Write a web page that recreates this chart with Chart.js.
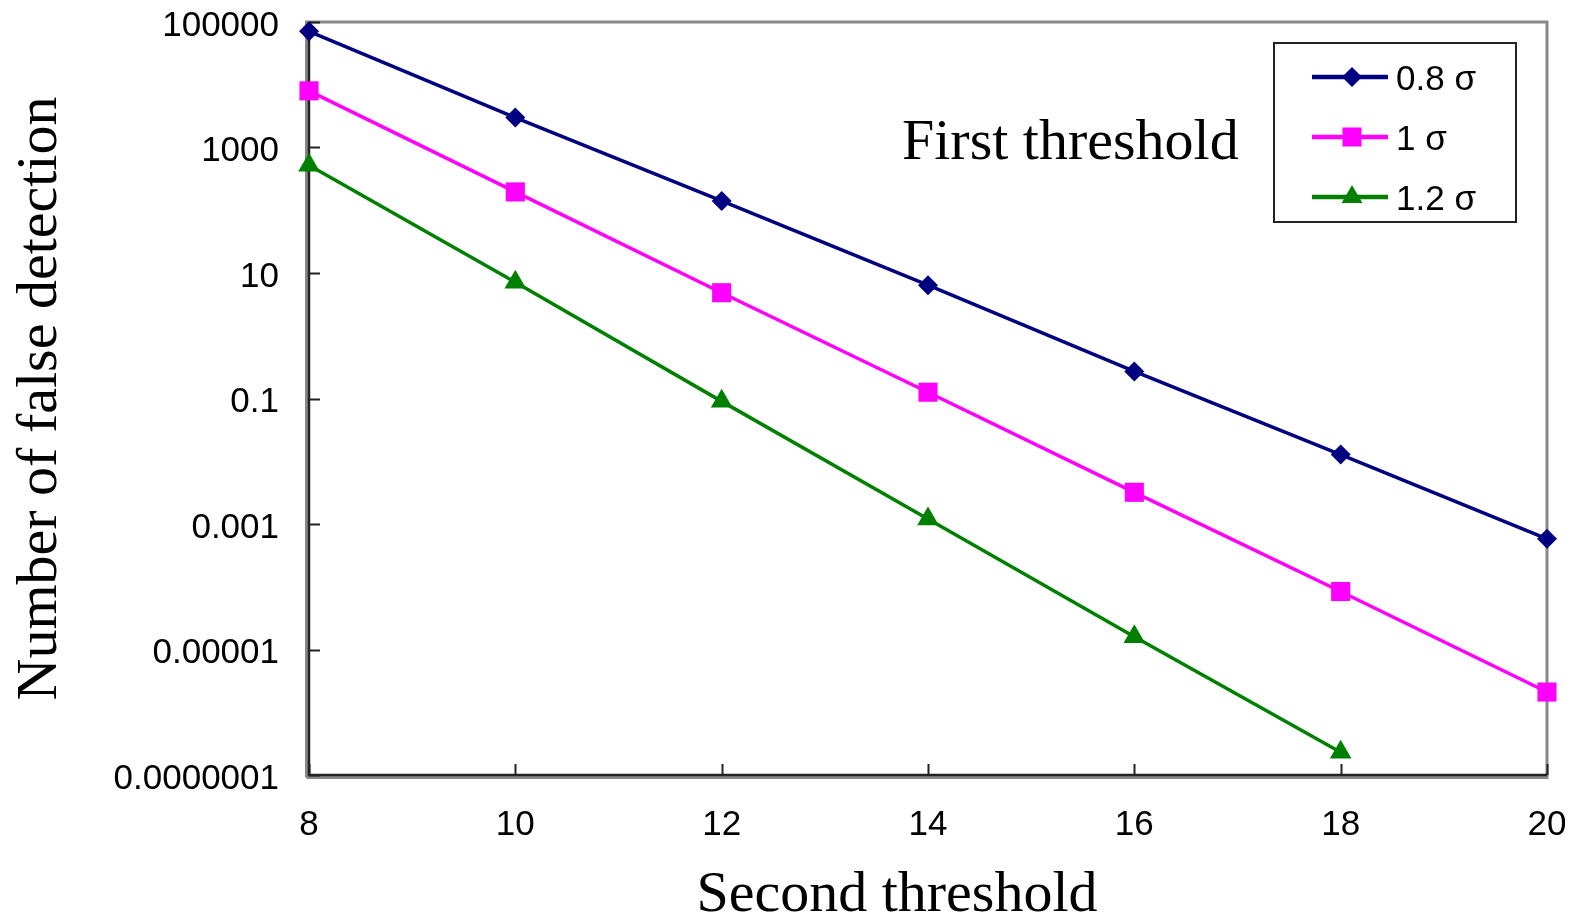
<!DOCTYPE html>
<html>
<head>
<meta charset="utf-8">
<script src="https://cdn.jsdelivr.net/npm/chart.js"></script>
<style>
  html, body { margin: 0; padding: 0; background: #fff; }
  canvas { display: block; }
</style>
</head>
<body>
<canvas id="chart" width="1579" height="919"></canvas>
<script>
// values (log scale)
const secondThreshold = [8, 10, 12, 14, 16, 18, 20];
const sigma08 = [71000, 3000, 141, 6.4, 0.27, 0.0128, 0.00058];
const sigma10 = [8000, 196, 4.85, 0.126, 0.0032, 0.000084, 0.0000021];
const sigma12 = [520, 7.1, 0.09, 0.0012, 0.000016, 0.00000023];
const seriesNames = ['0.8 σ', '1 σ', '1.2 σ'];
const yTickValues = [1e-7, 1e-5, 1e-3, 1e-1, 10, 1000, 100000];
const yTickLabels = ['0.0000001', '0.00001', '0.001', '0.1', '10', '1000', '100000'];
const xTickValues = [8, 10, 12, 14, 16, 18, 20];

const SANS = '"Liberation Sans", Arial, sans-serif';
const SERIF = '"Liberation Serif", "Times New Roman", serif';

function toPoints(ys) {
  return ys.map((y, i) => ({ x: secondThreshold[i], y: y }));
}

const styles = [
  { color: '#000080', pointStyle: 'rectRot', radius: 10 },
  { color: '#ff00ff', pointStyle: 'rect', radius: 13.5 },
  { color: '#008000', pointStyle: 'triangle', radius: 12.5 }
];

// frame, inward ticks, legend box, x title and the "First threshold" note
const decorations = {
  id: 'decorations',
  beforeDatasetsDraw(chart) {
    const ctx = chart.ctx;
    const a = chart.chartArea;
    const xs = chart.scales.x, ys = chart.scales.y;
    ctx.save();
    ctx.lineCap = 'butt';
    // grey frame
    ctx.strokeStyle = '#888';
    ctx.lineWidth = 3;
    ctx.beginPath();
    ctx.moveTo(a.left - 2.5, a.bottom + 2.5);
    ctx.lineTo(a.left - 2.5, a.top);
    ctx.lineTo(a.right, a.top);
    ctx.lineTo(a.right, a.bottom + 2.5);
    ctx.lineTo(a.left - 2.5, a.bottom + 2.5);
    ctx.stroke();
    // black axes
    ctx.strokeStyle = '#222';
    ctx.lineWidth = 2.5;
    ctx.beginPath();
    ctx.moveTo(a.left, a.top);
    ctx.lineTo(a.left, a.bottom);
    ctx.lineTo(a.right, a.bottom);
    ctx.stroke();
    // inward ticks
    ctx.lineWidth = 2;
    ctx.beginPath();
    yTickValues.forEach(v => {
      const py = Math.round(ys.getPixelForValue(v)) + 0.5;
      ctx.moveTo(a.left, py);
      ctx.lineTo(a.left + 11, py);
    });
    xTickValues.forEach(v => {
      const px = Math.round(xs.getPixelForValue(v)) + 0.5;
      ctx.moveTo(px, a.bottom);
      ctx.lineTo(px, a.bottom - 11);
    });
    ctx.stroke();
    ctx.restore();
  },
  afterDraw(chart) {
    const ctx = chart.ctx;
    ctx.save();
    ctx.fillStyle = '#000';
    ctx.font = '58px ' + SERIF;
    ctx.textAlign = 'left';
    ctx.textBaseline = 'alphabetic';
    // annotation
    ctx.fillText('First threshold', 902, 159);
    // x axis title
    ctx.textAlign = 'center';
    ctx.fillText('Second threshold', 897, 911);
    // legend box
    const box = { left: 1274, top: 43, right: 1516, bottom: 222 };
    ctx.strokeStyle = '#222';
    ctx.lineWidth = 2;
    ctx.strokeRect(box.left, box.top, box.right - box.left, box.bottom - box.top);
    const rows = [77, 137, 197];
    chart.data.datasets.forEach((ds, i) => {
      const y = rows[i];
      const st = styles[i];
      ctx.strokeStyle = st.color;
      ctx.fillStyle = st.color;
      ctx.lineWidth = 4.5;
      ctx.beginPath();
      ctx.moveTo(1312, y);
      ctx.lineTo(1388, y);
      ctx.stroke();
      const cx = 1352;
      ctx.beginPath();
      if (st.pointStyle === 'rectRot') {
        const r = 10;
        ctx.moveTo(cx - r, y); ctx.lineTo(cx, y - r); ctx.lineTo(cx + r, y); ctx.lineTo(cx, y + r);
      } else if (st.pointStyle === 'rect') {
        ctx.rect(cx - 9.5, y - 9.5, 19, 19);
      } else {
        const r = 12;
        ctx.moveTo(cx, y - r);
        ctx.lineTo(cx + r * 0.866, y + r * 0.5);
        ctx.lineTo(cx - r * 0.866, y + r * 0.5);
      }
      ctx.closePath();
      ctx.fill();
      ctx.fillStyle = '#000';
      ctx.font = '35px ' + SANS;
      ctx.textAlign = 'left';
      ctx.textBaseline = 'middle';
      ctx.fillText(ds.label, 1396, y + 3);
    });
    ctx.restore();
  }
};

const datasets = [sigma08, sigma10, sigma12].map((vals, i) => ({
  label: seriesNames[i],
  data: toPoints(vals),
  borderColor: styles[i].color,
  backgroundColor: styles[i].color,
  borderWidth: 3.5,
  pointStyle: styles[i].pointStyle,
  pointRadius: styles[i].radius,
  pointBorderWidth: 0,
  pointBackgroundColor: styles[i].color,
  pointBorderColor: styles[i].color,
  tension: 0,
  clip: false
}));

function noPad(scale) {
  scale.paddingTop = 0;
  scale.paddingBottom = 0;
  scale.paddingLeft = 0;
  scale.paddingRight = 0;
}

new Chart(document.getElementById('chart'), {
  type: 'line',
  data: { datasets: datasets },
  options: {
    responsive: false,
    animation: false,
    events: [],
    layout: { padding: { top: 22, right: 32, left: 0, bottom: 0 } },
    plugins: {
      legend: { display: false },
      tooltip: { enabled: false }
    },
    scales: {
      x: {
        type: 'linear',
        min: 8,
        max: 20,
        afterBuildTicks(scale) {
          scale.ticks = xTickValues.map(v => ({ value: v }));
        },
        afterFit(scale) { scale.height = 144; noPad(scale); },
        grid: { display: false, drawTicks: false },
        border: { display: false },
        ticks: {
          color: '#000',
          padding: 29,
          maxRotation: 0,
          autoSkip: false,
          font: { family: SANS, size: 35 }
        }
      },
      y: {
        type: 'logarithmic',
        min: 1e-7,
        max: 1e5,
        afterBuildTicks(scale) {
          scale.ticks = yTickValues.map(v => ({ value: v }));
        },
        afterFit(scale) { scale.width = 309; noPad(scale); },
        grid: { display: false, drawTicks: false },
        border: { display: false },
        ticks: {
          color: '#000',
          padding: 30,
          labelOffset: 4,
          autoSkip: false,
          font: { family: SANS, size: 35 },
          callback: (v, i) => yTickLabels[i]
        },
        title: {
          display: true,
          text: 'Number of false detection',
          color: '#000',
          padding: { top: 15, bottom: 0 },
          font: { family: SERIF, size: 58, lineHeight: 0.9 }
        }
      }
    }
  },
  plugins: [decorations]
});
</script>
</body>
</html>
